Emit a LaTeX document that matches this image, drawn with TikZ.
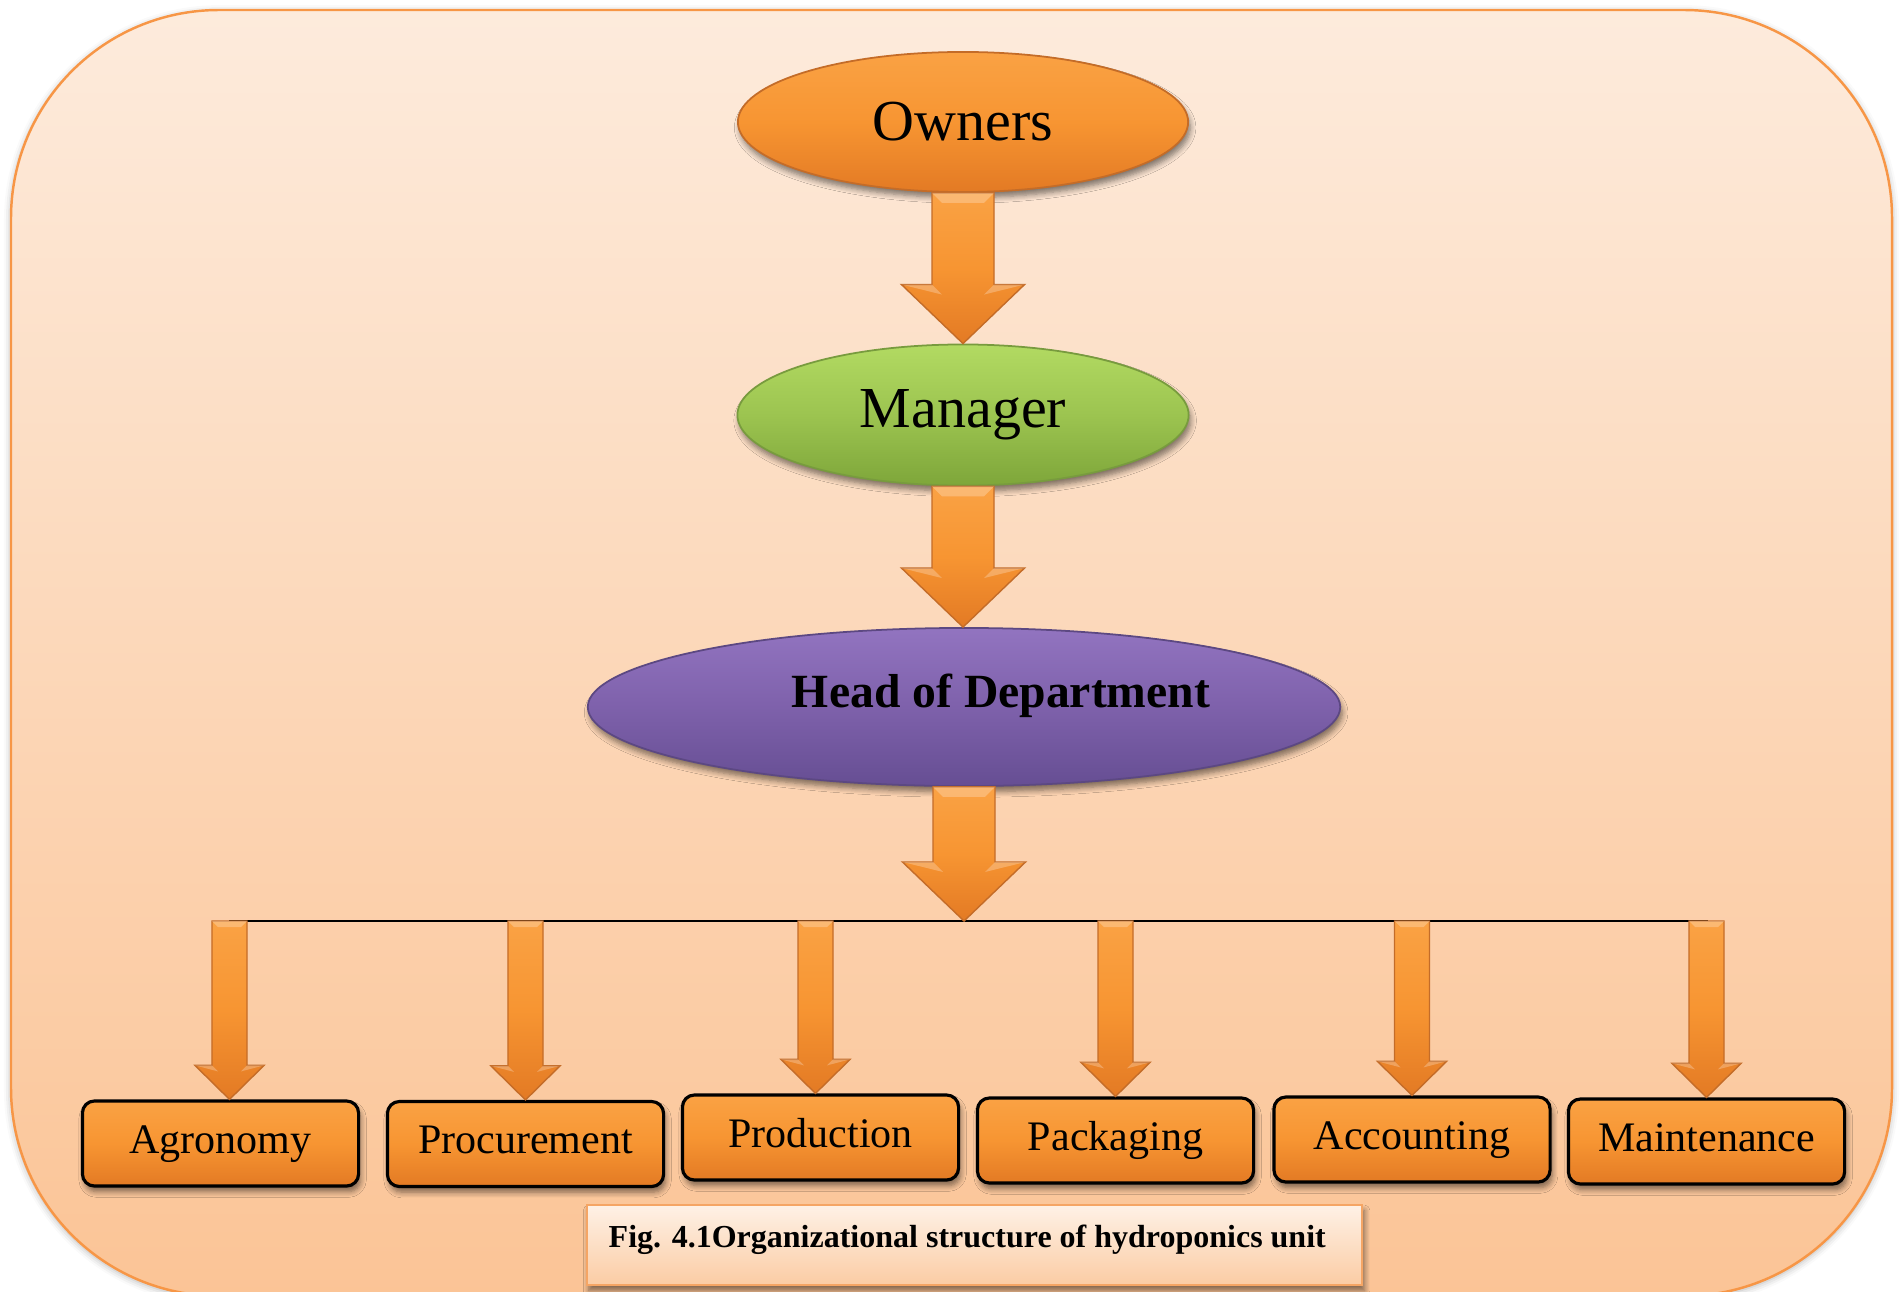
\documentclass[tikz,border=0pt]{standalone}
\usepackage{fontspec}
\setmainfont{Liberation Serif}
\usetikzlibrary{shapes.geometric,calc,shadows.blur}

% palette
\definecolor{bgtop}{RGB}{253,235,220}
\definecolor{bgbot}{RGB}{251,196,150}
\definecolor{bgedge}{RGB}{247,150,70}
\definecolor{orT}{RGB}{250,162,68}
\definecolor{orM}{RGB}{247,149,50}
\definecolor{orB}{RGB}{227,122,36}
\definecolor{orEdge}{RGB}{196,108,40}
\definecolor{grT}{RGB}{178,218,98}
\definecolor{grM}{RGB}{156,196,80}
\definecolor{grB}{RGB}{126,166,58}
\definecolor{grEdge}{RGB}{120,155,62}
\definecolor{puT}{RGB}{146,116,192}
\definecolor{puM}{RGB}{126,97,171}
\definecolor{puB}{RGB}{102,78,147}
\definecolor{puEdge}{RGB}{92,72,130}
\definecolor{capT}{RGB}{254,241,230}
\definecolor{capB}{RGB}{251,204,164}
\definecolor{capEdge}{RGB}{245,165,100}

\pgfdeclarelayer{bg}
\pgfsetlayers{bg,main}

\tikzset{
  softshadow/.style={blur shadow={shadow xshift=0.6pt, shadow yshift=-1.6pt,
      shadow blur steps=6, shadow blur radius=1.6pt, shadow opacity=50}},
  orangefill/.style={top color=orT, bottom color=orB, middle color=orM},
  greenfill/.style={top color=grT, bottom color=grB, middle color=grM},
  purplefill/.style={top color=puT, bottom color=puB, middle color=puM},
  oval/.style={ellipse, inner sep=0pt, softshadow, line width=0.5pt},
  deptbox/.style={rectangle, rounded corners=0.12cm, draw=black, line width=0.9pt,
      orangefill, softshadow, minimum width=2.76cm, minimum height=0.85cm,
      inner sep=0pt, font=\fontsize{11.95}{13}\selectfont,
      text height=8.2pt, text depth=2.6pt},
  fatbody/.style={orangefill, draw=orEdge, line width=0.4pt, line join=miter},
  fatbevel/.style={fill=white, fill opacity=0.25},
}

% block arrow pointing down: start, end, shaft half width, head half width, head length, bevel
\newcommand\fatarrow[6]{%
  \path[fatbody] let \p1=(#1), \p2=(#2) in
    (\x1-#3,\y1) -- (\x1+#3,\y1) -- (\x1+#3,\y2+#5) -- (\x1+#4,\y2+#5)
    -- (\x1,\y2) -- (\x1-#4,\y2+#5) -- (\x1-#3,\y2+#5) -- cycle;
  \path[fatbevel] let \p1=(#1), \p2=(#2) in
    (\x1-#3,\y1) -- (\x1+#3,\y1) -- (\x1+#3-#6,\y1-#6) -- (\x1-#3+#6,\y1-#6) -- cycle
    (\x1-#4,\y2+#5) -- (\x1-#3,\y2+#5) -- (\x1-#3+#6,\y2+#5-#6) -- cycle
    (\x1+#4,\y2+#5) -- (\x1+#3,\y2+#5) -- (\x1+#3-#6,\y2+#5-#6) -- cycle;
}

\begin{document}
\begin{tikzpicture}[x=0.01cm,y=-0.01cm]
\useasboundingbox (0,0) rectangle (1901,1291);
\clip (0,0) rectangle (1901,1291);

% panel
\path[draw=bgedge, line width=0.7pt, top color=bgtop, bottom color=bgbot,
      rounded corners=2.08cm,
      blur shadow={shadow xshift=0pt, shadow yshift=-0.6pt, shadow blur radius=2pt, shadow opacity=30}]
  (11,10) rectangle (1892,1296);

% hierarchy
\node[oval, orangefill, draw=orEdge, minimum width=4.5cm, minimum height=1.4cm,
      font=\fontsize{16.5}{18}\selectfont] (owners) at (963,122) {Owners};
\node[oval, greenfill, draw=grEdge, minimum width=4.51cm, minimum height=1.41cm,
      font=\fontsize{16.5}{18}\selectfont] (manager) at (963,415) {Manager};
\node[oval, purplefill, draw=puEdge, minimum width=7.52cm, minimum height=1.58cm] (hod) at (964,707) {};
\node[anchor=base, font=\bfseries\fontsize{13.55}{15}\selectfont]
  (hodtext) at ([xshift=0.37cm]hod.center) {Head of Department};

% departments
\node[deptbox] (agro) at (220.5,1143.5) {Agronomy};
\node[deptbox] (proc) at (525.5,1144) {Procurement};
\node[deptbox] (prod) at (820.5,1137.5) {Production};
\node[deptbox] (pack) at (1115.5,1140.5) {Packaging};
\node[deptbox] (acct) at (1412,1139.5) {Accounting};
\node[deptbox] (maint) at (1706.5,1141.5) {Maintenance};

% distribution bar
\coordinate (bus) at (963,921);
\coordinate (busL) at (229,921);
\coordinate (busR) at (1708,921);
\draw[line width=0.6pt] (busL) -- (busR);

% arrows
\fatarrow{owners.south}{manager.north}{0.31cm}{0.615cm}{0.59cm}{0.1cm}
\fatarrow{manager.south}{hod.north}{0.31cm}{0.615cm}{0.59cm}{0.1cm}
\fatarrow{hod.south}{bus}{0.31cm}{0.615cm}{0.59cm}{0.1cm}

\fatarrow{[xshift=0.09cm]agro.north |- bus}{[xshift=0.09cm]agro.north}{0.175cm}{0.345cm}{0.34cm}{0.06cm}
\fatarrow{proc.north |- bus}{proc.north}{0.175cm}{0.345cm}{0.34cm}{0.06cm}
\fatarrow{[xshift=-0.05cm]prod.north |- bus}{[xshift=-0.05cm]prod.north}{0.175cm}{0.345cm}{0.34cm}{0.06cm}
\fatarrow{pack.north |- bus}{pack.north}{0.175cm}{0.345cm}{0.34cm}{0.06cm}
\fatarrow{acct.north |- bus}{acct.north}{0.175cm}{0.345cm}{0.34cm}{0.06cm}
\fatarrow{maint.north |- bus}{maint.north}{0.175cm}{0.345cm}{0.34cm}{0.06cm}

% caption
\node[rectangle, draw=capEdge, line width=0.6pt, top color=capT, bottom color=capB,
      softshadow, minimum width=7.75cm, minimum height=0.8cm, inner sep=0pt]
  (cap) at (974.5,1245) {};
\node[anchor=base west, inner sep=0pt, font=\bfseries\fontsize{9.1}{10}\selectfont]
  (captext) at (608,1247) {Fig. 4.1Organizational structure of hydroponics unit};
\end{tikzpicture}
\end{document}
